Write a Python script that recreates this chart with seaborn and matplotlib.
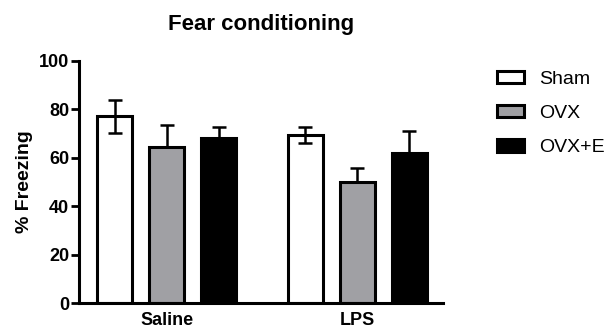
import pandas as pd
import matplotlib
matplotlib.use("Agg")
import matplotlib.pyplot as plt
import seaborn as sns

# data (mean +/- SEM, % freezing)
treatments = ["Saline", "LPS"]
groups = ["Sham", "OVX", "OVX+E"]
means = {"Sham": [77.2, 69.4], "OVX": [64.5, 50.1], "OVX+E": [68.0, 61.8]}
sems = {"Sham": [6.8, 3.3], "OVX": [9.0, 5.7], "OVX+E": [4.5, 9.3]}
colors = ["#ffffff", "#a0a0a4", "#000000"]
yticks = [0, 20, 40, 60, 80, 100]

sns.set_theme(style="ticks")
plt.rcParams['font.family'] = ['Liberation Sans', 'DejaVu Sans']
plt.rcParams.update({"text.color": "black", "axes.labelcolor": "black",
                     "xtick.color": "black", "ytick.color": "black",
                     "axes.edgecolor": "black"})

rows = []
for g in groups:
    for t, m in zip(treatments, means[g]):
        rows.append({"treatment": t, "group": g, "freezing": m})
df = pd.DataFrame(rows)

fig = plt.figure(figsize=(6.07, 3.28), dpi=100)
ax = fig.add_axes([79 / 607, 1 - 303.3 / 328, (443 - 79) / 607, (303.3 - 60.7) / 328])

sns.barplot(data=df, x="treatment", y="freezing", hue="group", order=treatments,
            hue_order=groups, palette=colors, width=0.82, gap=0.33,
            edgecolor="black", linewidth=2.2, errorbar=None, legend=False, ax=ax)

# error bars: full for open bars, upper half only for filled ones
for g, cont in zip(groups, ax.containers):
    for bar, m, s in zip(cont, means[g], sems[g]):
        x = bar.get_x() + bar.get_width() / 2
        lower = s if g == "Sham" else 0
        ax.errorbar(x, m, yerr=[[lower], [s]], fmt="none", ecolor="black",
                    elinewidth=1.8, capsize=5, capthick=1.8, zorder=5)

ax.set_ylim(0, 100)
ax.set_xlim(-0.46, 1.45)
ax.set_yticks(yticks)
ax.set_xlabel("")
ax.set_ylabel("% Freezing", fontsize=14, fontweight="bold", labelpad=4)
ax.set_title("Fear conditioning", fontsize=16, fontweight="bold", pad=22)
sns.despine(ax=ax)
for sp in ["left", "bottom"]:
    ax.spines[sp].set_linewidth(2.2)
ax.tick_params(axis="y", length=6, width=2, labelsize=13, pad=1)
ax.tick_params(axis="x", length=0, labelsize=13, pad=6)
for lab in ax.get_xticklabels() + ax.get_yticklabels():
    lab.set_fontweight("bold")

handles = [plt.Rectangle((0, 0), 1, 1, facecolor=c, edgecolor="black", linewidth=2.2)
           for c in colors]
fig.legend(handles, groups, loc="upper left", bbox_to_anchor=(497 / 607, 1 - 71 / 328),
           frameon=False, fontsize=14, handlelength=1.4, handleheight=0.6,
           labelspacing=0.88, handletextpad=0.75, borderaxespad=0, borderpad=0)

fig.savefig("out.png", dpi=100)
